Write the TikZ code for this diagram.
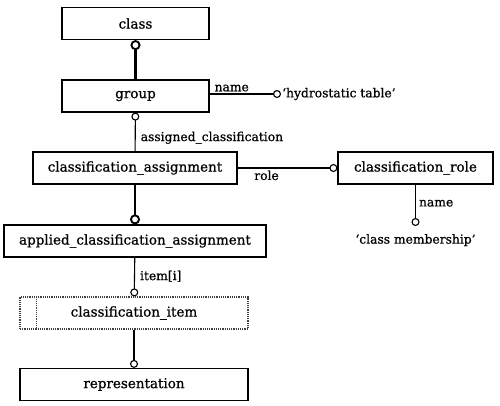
\documentclass[tikz,border=0pt]{standalone}
\usepackage{fontspec}
\setmainfont{DejaVu Serif}[FakeBold=0.8]
\usetikzlibrary{arrows.meta}

\begin{document}
\begin{tikzpicture}[x=1pt,y=-1pt,
    entity/.style={draw,line width=1.2pt,inner sep=0pt,minimum height=32pt,
                   font=\fontsize{13.5}{16}\selectfont},
    attr/.style={inner sep=1pt,font=\fontsize{12.3}{14}\selectfont},
    rel/.style={line width=1.1pt,-{Circle[open,length=8pt,width=8pt]}},
    sub/.style={line width=2.6pt,-{Circle[open,length=10pt,width=10pt,line width=1.9pt]}}]
  \useasboundingbox (0,0) rectangle (500,405);
  \node [entity,minimum width=147pt] (class) at (135.5,23.5) {class};
  \node [entity,minimum width=147pt] (group) at (135.5,96) {group};
  \node [entity,minimum width=204pt] (clsasgn) at (135,168) {classification\_assignment};
  \node [entity,minimum width=155pt] (clsrole) at (415.5,168) {classification\_role};
  \node [entity,minimum width=262pt] (appasgn) at (135,241) {applied\_classification\_assignment};
  \node [entity,densely dotted,draw=black!75,minimum width=228pt] (clsitem) at (134,313) {classification\_item};
  \draw [densely dotted,draw=black!75,line width=1.2pt]
    ([xshift=17pt]clsitem.north west) -- ([xshift=17pt]clsitem.south west);
  \node [entity,minimum width=228pt] (repr) at (134,384.5) {representation};
  \node [attr,anchor=west] (hydro) at (281,94) {`hydrostatic table'};
  \node [attr,anchor=north,inner ysep=8pt] (member) at (415.5,226) {`class membership'};
  \path
    (group) edge [sub] (class)

    (clsasgn) edge [rel] node [attr,right=4pt,pos=0.35] {assigned\_classification} (group)

    (group.east|-hydro.west) edge [rel] node [attr,above=1pt,pos=0.31] {name} (hydro.west)

    (clsasgn.east) edge [rel] node [attr,below=1pt,pos=0.29] {role} (clsrole.west)

    (clsrole) edge [rel] node [attr,right=2pt,pos=0.45] {name} (member.north)

    (clsasgn) edge [sub] (appasgn)

    (appasgn) edge [rel] node [attr,right=4pt,pos=0.48] {item[i]} (clsitem)

    (clsitem) edge [rel] (repr);
\end{tikzpicture}
\end{document}
